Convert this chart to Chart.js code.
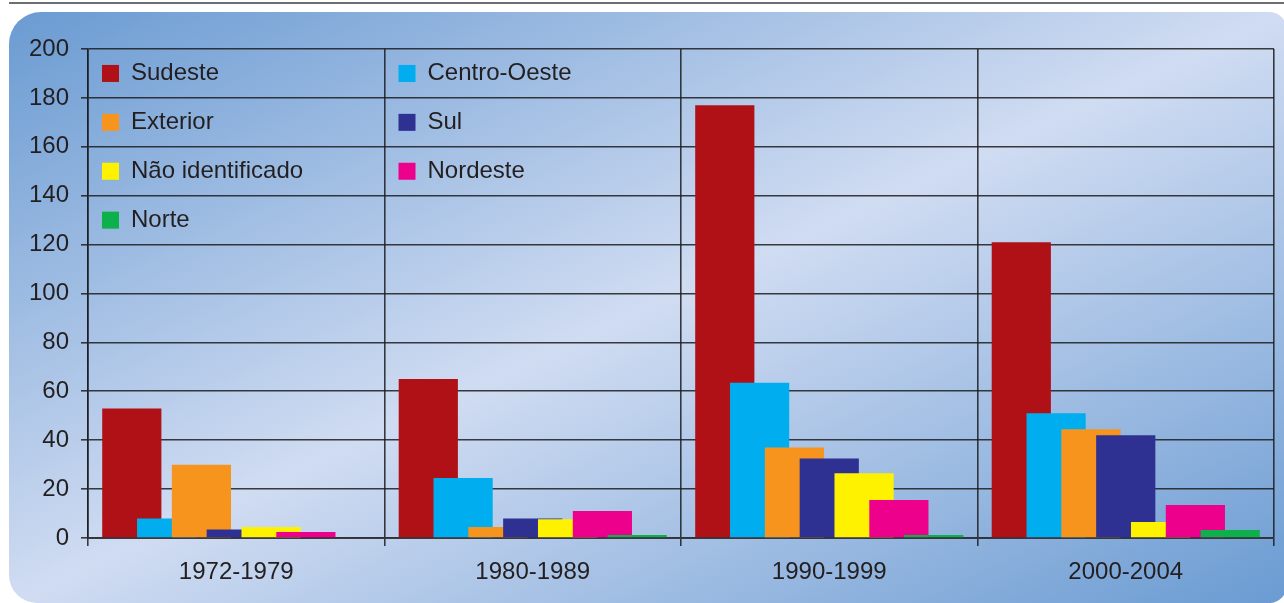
<!DOCTYPE html>
<html>
<head>
<meta charset="utf-8">
<script src="https://cdn.jsdelivr.net/npm/chart.js@4/dist/chart.umd.min.js"></script>
<style>
  html, body { margin:0; padding:0; width:1284px; height:603px; overflow:hidden; background:#ffffff; }
  #topline { position:absolute; left:9px; top:2px; width:1275px; height:2px; background:#6d6e71; }
  #panel { position:absolute; left:9px; top:12px; width:1278px; height:591px;
    border-radius:32px 18px 18px 28px;
    background: linear-gradient(to bottom right, #6a9bd2 0%, #d0dcf2 50%, #6a9bd2 100%); }
  #c { position:absolute; left:0; top:0; }
</style>
</head>
<body>
<div id="topline"></div>
<div id="panel"></div>
<canvas id="c" width="1284" height="603"></canvas>
<script>
const categories = ['1972-1979', '1980-1989', '1990-1999', '2000-2004'];
const seriesNames = ['Sudeste', 'Centro-Oeste', 'Exterior', 'Sul', 'Não identificado', 'Nordeste', 'Norte'];
const seriesColors = ['#b01117', '#00aeef', '#f7941e', '#2e3192', '#fff200', '#ec008c', '#0db04b'];
const sudeste = [53, 65, 177, 121];
const centroOeste = [8, 24.5, 63.5, 51];
const exterior = [30, 4.5, 37, 44.5];
const sul = [3.5, 8, 32.5, 42];
const naoIdentificado = [4.5, 7.7, 26.5, 6.5];
const nordeste = [2.5, 11, 15.5, 13.5];
const norte = [0, 1.2, 1.2, 3.3];
const yTicks = [0, 20, 40, 60, 80, 100, 120, 140, 160, 180, 200];

const seriesValues = [sudeste, centroOeste, exterior, sul, naoIdentificado, nordeste, norte];
const FONT = '"Liberation Sans", Arial, sans-serif';
const TEXT = '#231f20';
const GRID = 'rgba(28,28,32,0.85)';

// draw datasets in natural order so later series overlap earlier ones
const drawOrderPlugin = {
  id: 'drawOrder',
  beforeDatasetsDraw(chart) {
    const metas = chart.getSortedVisibleDatasetMetas();
    for (let i = 0; i < metas.length; i++) chart._drawDataset(metas[i]);
    return false;
  }
};

const gridLegendPlugin = {
  id: 'gridLegend',
  afterDraw(chart) {
    const { ctx, chartArea, scales } = chart;
    const x = scales.x, y = scales.y;
    ctx.save();
    ctx.font = '24px ' + FONT;
    ctx.textBaseline = 'middle';
    ctx.textAlign = 'left';
    seriesNames.forEach((name, i) => {
      const col = i % 2, row = Math.floor(i / 2);
      const left = col === 0 ? chartArea.left : (x.getPixelForValue(0) + x.getPixelForValue(1)) / 2;
      const top = yTicks[yTicks.length - 1 - row];
      const cy = (y.getPixelForValue(top) + y.getPixelForValue(top - 20)) / 2;
      ctx.fillStyle = seriesColors[i];
      ctx.fillRect(left + 14, cy - 8.5, 17, 17);
      ctx.fillStyle = TEXT;
      ctx.fillText(name, left + 43, cy);
    });
    ctx.restore();
  }
};

new Chart(document.getElementById('c'), {
  type: 'bar',
  data: {
    labels: categories,
    datasets: seriesNames.map((name, i) => ({
      label: name,
      data: seriesValues[i],
      backgroundColor: seriesColors[i],
      borderWidth: 0,
      categoryPercentage: 0.822,
      barPercentage: 1.7
    }))
  },
  options: {
    responsive: false,
    devicePixelRatio: 1,
    animation: false,
    layout: { padding: { left: 29, right: 10, top: 49, bottom: 18 } },
    plugins: { legend: { display: false }, tooltip: { enabled: false } },
    scales: {
      x: {
        z: 1,
        grid: { display: true, offset: true, color: GRID, lineWidth: 1.6, drawTicks: true, tickLength: 8, tickColor: GRID },
        border: { display: true, color: 'rgba(50,50,55,0.9)', width: 2 },
        ticks: { color: TEXT, font: { family: FONT, size: 24 }, padding: 12, maxRotation: 0 },
        afterFit(scale) { scale.height = 47; }
      },
      y: {
        z: 1,
        min: 0, max: 200,
        afterBuildTicks(scale) { scale.ticks = yTicks.map(v => ({ value: v })); },
        grid: { color: GRID, lineWidth: 1.6, drawTicks: true, tickLength: 7, tickColor: GRID },
        border: { display: true, color: GRID, width: 1.6 },
        ticks: { color: TEXT, font: { family: FONT, size: 24 }, padding: 12 },
        afterFit(scale) { scale.width = 59; }
      }
    }
  },
  plugins: [drawOrderPlugin, gridLegendPlugin]
});
</script>
</body>
</html>
